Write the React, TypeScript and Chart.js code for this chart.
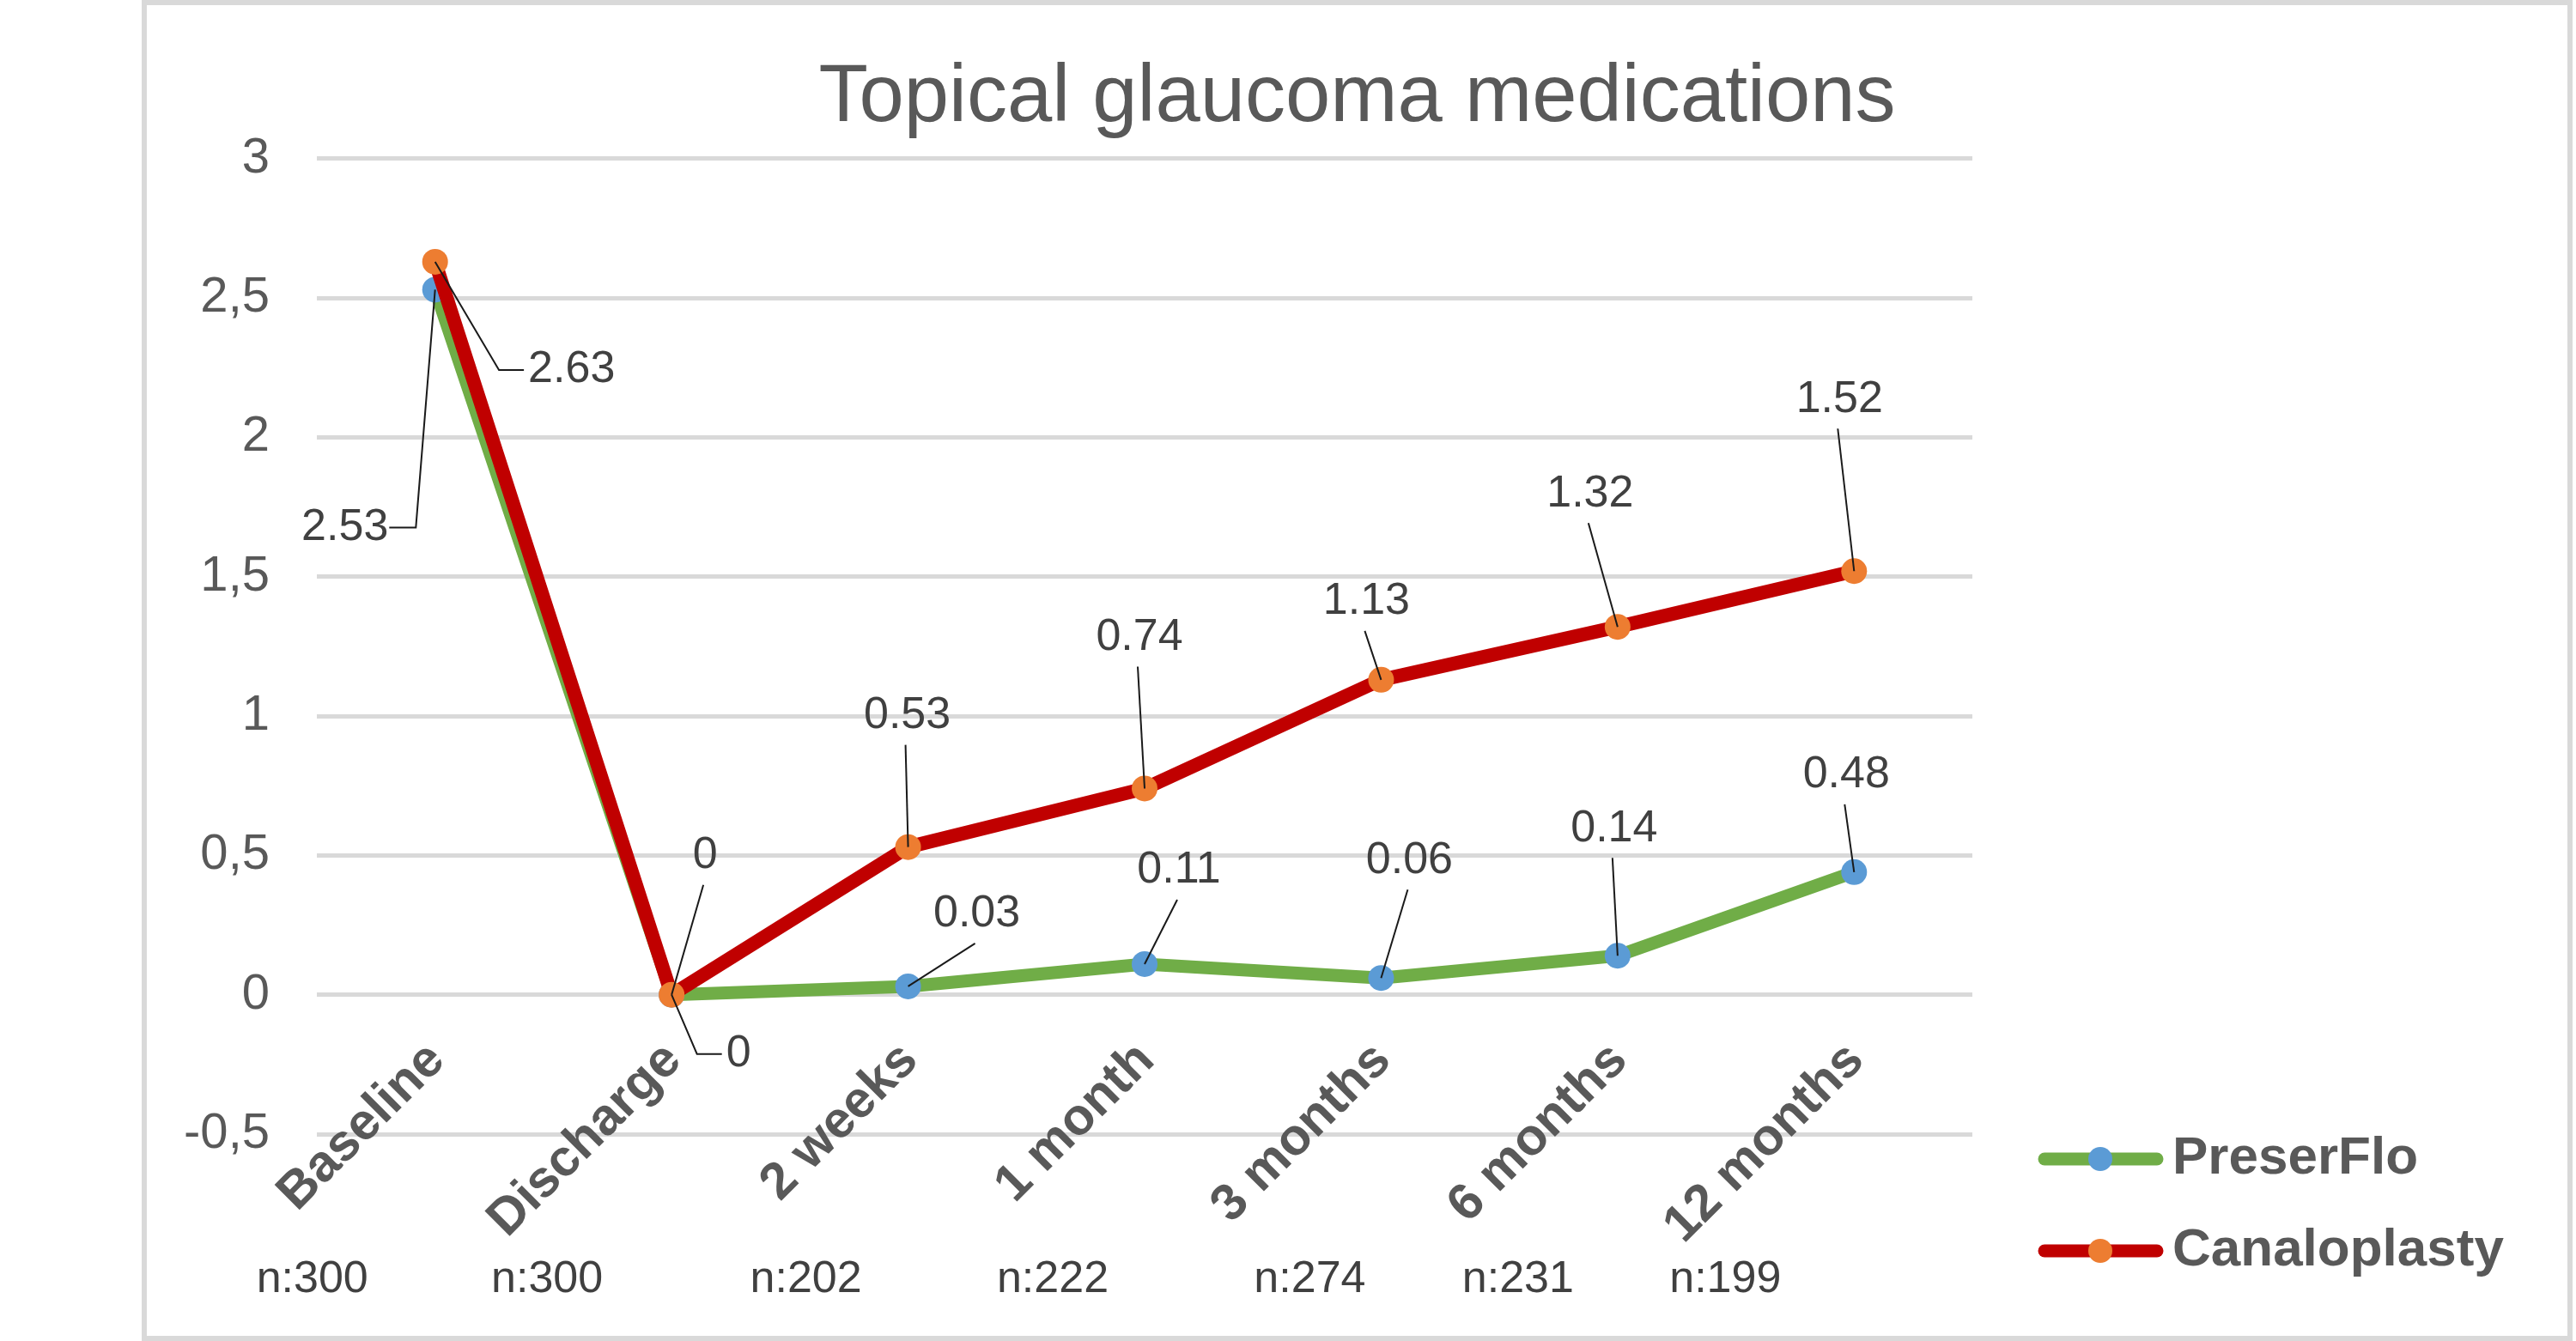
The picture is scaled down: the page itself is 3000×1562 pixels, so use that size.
import React, { useEffect, useRef } from "react";
import { Chart, registerables } from "chart.js";

Chart.register(...registerables);

// ---------- data ----------
const categories = ["Baseline", "Discharge", "2 weeks", "1 month", "3 months", "6 months", "12 months"];
const sampleSizes = ["n:300", "n:300", "n:202", "n:222", "n:274", "n:231", "n:199"];
const preserFloValues = [2.53, 0, 0.03, 0.11, 0.06, 0.14, 0.44];
const preserFloLabels = ["2.53", "0", "0.03", "0.11", "0.06", "0.14", "0.48"];
const canaloplastyValues = [2.63, 0, 0.53, 0.74, 1.13, 1.32, 1.52];
const canaloplastyLabels = ["2.63", "0", "0.53", "0.74", "1.13", "1.32", "1.52"];
const yTickValues = [-0.5, 0, 0.5, 1, 1.5, 2, 2.5, 3];

// ---------- label placement (annotation offsets, px) ----------
type LabelPos = { dx: number; dy: number; leader: "up" | "right" | "left" };
const preserFloLabelPos: LabelPos[] = [
  { dx: -105, dy: 277, leader: "left" },
  { dx: 78, dy: 69, leader: "right" },
  { dx: 80, dy: -84, leader: "up" },
  { dx: 40, dy: -109, leader: "up" },
  { dx: 33, dy: -137, leader: "up" },
  { dx: -4, dy: -148, leader: "up" },
  { dx: -9, dy: -113, leader: "up" },
];
const canaloplastyLabelPos: LabelPos[] = [
  { dx: 159, dy: 126, leader: "right" },
  { dx: 39, dy: -162, leader: "up" },
  { dx: -1, dy: -153, leader: "up" },
  { dx: -6, dy: -176, leader: "up" },
  { dx: -17, dy: -91, leader: "up" },
  { dx: -32, dy: -155, leader: "up" },
  { dx: -17, dy: -200, leader: "up" },
];
const sampleSizeShift = [-143, -145, -119, -107, -83, -116, -150];

const FONT = "'Liberation Sans', Arial, Helvetica, sans-serif";
const GREEN = "#70ad47";
const BLUE = "#5b9bd5";
const RED = "#c00000";
const ORANGE = "#ed7d31";
const TEXT = "#595959";
const LABEL_TEXT = "#404040";

const legendItems = [
  { label: "PreserFlo", line: GREEN, point: BLUE },
  { label: "Canaloplasty", line: RED, point: ORANGE },
];

const annotationPlugin = {
  id: "annotations",
  afterDraw(chart: any) {
    const ctx: CanvasRenderingContext2D = chart.ctx;
    const xs = chart.scales.x;
    const ys = chart.scales.y;
    const area = chart.chartArea;

    // data labels with leader lines
    const drawLabels = (values: number[], labels: string[], pos: LabelPos[]) => {
      ctx.save();
      ctx.font = `52px ${FONT}`;
      ctx.textAlign = "center";
      ctx.textBaseline = "middle";
      for (let i = 0; i < values.length; i++) {
        const px = xs.getPixelForValue(i);
        const py = ys.getPixelForValue(values[i]);
        const cx = px + pos[i].dx;
        const cy = py + pos[i].dy;
        const w = ctx.measureText(labels[i]).width;
        ctx.beginPath();
        ctx.strokeStyle = "#1a1a1a";
        ctx.lineWidth = 2;
        ctx.moveTo(px, py);
        if (pos[i].leader === "up") {
          ctx.lineTo(cx - 2, cy + 34);
        } else if (pos[i].leader === "right") {
          const left = cx - w / 2;
          ctx.lineTo(left - 34, cy);
          ctx.lineTo(left - 5, cy);
        } else {
          const right = cx + w / 2;
          ctx.lineTo(right + 32, cy);
          ctx.lineTo(right + 1, cy);
        }
        ctx.stroke();
        ctx.fillStyle = LABEL_TEXT;
        ctx.fillText(labels[i], cx, cy);
      }
      ctx.restore();
    };
    drawLabels(preserFloValues, preserFloLabels, preserFloLabelPos);
    drawLabels(canaloplastyValues, canaloplastyLabels, canaloplastyLabelPos);

    // rotated category labels next to the zero line
    const y0 = ys.getPixelForValue(0);
    ctx.save();
    ctx.font = `bold 60px ${FONT}`;
    ctx.fillStyle = TEXT;
    ctx.textAlign = "right";
    ctx.textBaseline = "middle";
    categories.forEach((c, i) => {
      const px = xs.getPixelForValue(i);
      ctx.save();
      ctx.translate(px + 2, y0 + 67);
      ctx.rotate(-Math.PI / 4);
      ctx.fillText(c, 0, 0);
      ctx.restore();
    });
    ctx.restore();

    // sample sizes
    ctx.save();
    ctx.font = `52px ${FONT}`;
    ctx.fillStyle = LABEL_TEXT;
    ctx.textAlign = "center";
    ctx.textBaseline = "middle";
    sampleSizes.forEach((s, i) => {
      ctx.fillText(s, xs.getPixelForValue(i) + sampleSizeShift[i], area.bottom + 170);
    });
    ctx.restore();

    // legend
    ctx.save();
    legendItems.forEach((it, k) => {
      const ly = area.bottom + 29 + k * 107;
      const lx = area.right + 77;
      ctx.beginPath();
      ctx.strokeStyle = it.line;
      ctx.lineWidth = 15;
      ctx.lineCap = "round";
      ctx.moveTo(lx + 7, ly);
      ctx.lineTo(lx + 138, ly);
      ctx.stroke();
      ctx.beginPath();
      ctx.fillStyle = it.point;
      ctx.arc(lx + 72, ly, 14, 0, Math.PI * 2);
      ctx.fill();
      ctx.font = `bold 62px ${FONT}`;
      ctx.fillStyle = TEXT;
      ctx.textAlign = "left";
      ctx.textBaseline = "middle";
      ctx.fillText(it.label, lx + 156, ly);
    });
    ctx.restore();
  },
};

export default function App() {
  const canvasRef = useRef<HTMLCanvasElement | null>(null);

  useEffect(() => {
    if (!canvasRef.current) return;
    Chart.defaults.font.family = FONT;
    const chart = new Chart(canvasRef.current, {
      type: "line",
      data: {
        labels: categories,
        datasets: [
          {
            label: "PreserFlo",
            data: preserFloValues,
            borderColor: GREEN,
            backgroundColor: GREEN,
            borderWidth: 15,
            pointRadius: 15,
            pointHoverRadius: 15,
            pointBackgroundColor: BLUE,
            pointBorderWidth: 0,
            borderJoinStyle: "round",
            borderCapStyle: "round",
            tension: 0,
            order: 1,
          },
          {
            label: "Canaloplasty",
            data: canaloplastyValues,
            borderColor: RED,
            backgroundColor: RED,
            borderWidth: 16,
            pointRadius: 15,
            pointHoverRadius: 15,
            pointBackgroundColor: ORANGE,
            pointBorderWidth: 0,
            borderJoinStyle: "round",
            borderCapStyle: "round",
            tension: 0,
            order: 0,
          },
        ],
      },
      options: {
        responsive: false,
        animation: false,
        events: [],
        layout: { padding: { left: 0, right: 0, top: 0, bottom: 235 } },
        plugins: {
          legend: { display: false },
          tooltip: { enabled: false },
          title: {
            display: true,
            text: "Topical glaucoma medications",
            color: TEXT,
            font: { size: 94, weight: "normal", family: FONT, lineHeight: 1.2 },
            padding: { top: 53, bottom: 13 },
          },
        },
        scales: {
          x: { type: "category", display: false, offset: true },
          y: {
            min: -0.5,
            max: 3,
            afterFit: (s: any) => {
              s.width = 198;
            },
            afterBuildTicks: (s: any) => {
              s.ticks = yTickValues.map((v) => ({ value: v }));
            },
            border: { display: false },
            grid: { color: "#d9d9d9", lineWidth: 5, drawTicks: false },
            ticks: {
              padding: 55,
              color: TEXT,
              font: { size: 58, family: FONT },
              callback: (v: any) => String(v).replace(".", ","),
            },
          },
          legendSpace: {
            type: "linear",
            position: "right",
            display: true,
            afterFit: (s: any) => {
              s.width = 693;
            },
            border: { display: false },
            grid: { display: false, drawTicks: false },
            ticks: { display: false },
          },
        },
      },
      plugins: [annotationPlugin],
    } as any);
    return () => chart.destroy();
  }, []);

  return (
    <div
      style={{
        position: "fixed",
        left: 165,
        top: 0,
        width: 2831,
        height: 1562,
        border: "6px solid #d9d9d9",
        boxSizing: "border-box",
        background: "#fff",
      }}
    >
      <canvas ref={canvasRef} width={2819} height={1550} style={{ width: 2819, height: 1550, display: "block" }} />
    </div>
  );
}
